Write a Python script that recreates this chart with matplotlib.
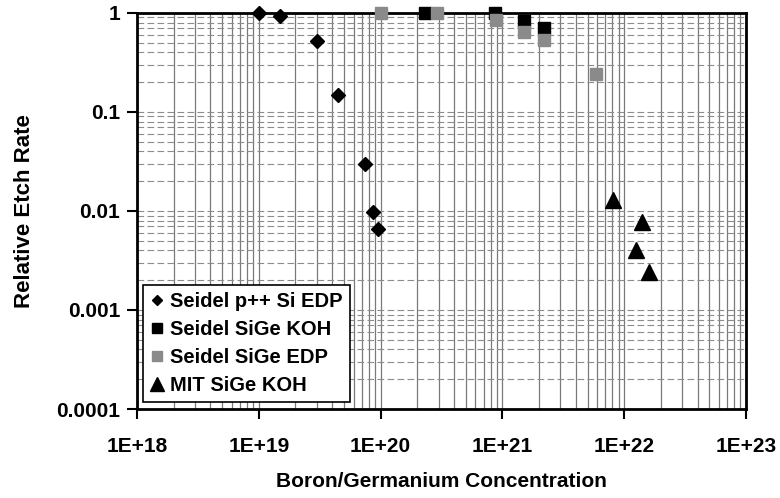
import matplotlib.pyplot as plt
import matplotlib.ticker as mticker
import numpy as np

plt.rcParams['font.family'] = ['Liberation Sans', 'DejaVu Sans']
plt.rcParams['font.weight'] = 'bold'

# Seidel p++ Si EDP
edp_si_x = [1.0e19, 1.5e19, 3.0e19, 4.5e19, 7.4e19, 8.6e19, 9.6e19]
edp_si_y = [1.0, 0.93, 0.52, 0.15, 0.030, 0.0097, 0.0066]

# Seidel SiGe KOH
koh_sige_x = [2.3e20, 8.7e20, 1.5e21, 2.2e21]
koh_sige_y = [1.0, 1.0, 0.83, 0.70]

# Seidel SiGe EDP
edp_sige_x = [1.0e20, 2.9e20, 8.8e20, 1.5e21, 2.2e21, 5.9e21]
edp_sige_y = [1.0, 1.0, 0.85, 0.64, 0.53, 0.24]

# MIT SiGe KOH
mit_x = [8.1e21, 1.4e22, 1.26e22, 1.6e22]
mit_y = [0.013, 0.0077, 0.0040, 0.0024]

fig = plt.figure(figsize=(7.8, 4.98), dpi=100)
ax = fig.add_axes([0.1756, 0.1787, 0.7808, 0.7953])
ax.set_xscale('log')
ax.set_yscale('log')
ax.set_xlim(1e18, 1e23)
ax.set_ylim(1e-4, 1)

# grid: vertical solid, horizontal dashed
ax.xaxis.set_minor_locator(mticker.LogLocator(base=10, subs=np.arange(2, 10)))
ax.yaxis.set_minor_locator(mticker.LogLocator(base=10, subs=np.arange(2, 10)))
ax.grid(True, axis='x', which='both', color='#7a7a7a', lw=0.9, ls='-')
ax.grid(True, axis='y', which='both', color='#8c8c8c', lw=0.8, ls=(0, (6, 3)))
ax.set_axisbelow(True)

ax.plot(edp_si_x, edp_si_y, 'D', color='black', ms=7, ls='none',
        clip_on=False, label='Seidel p++ Si EDP', zorder=3)
ax.plot(koh_sige_x, koh_sige_y, 's', color='black', ms=8.5, ls='none',
        clip_on=False, label='Seidel SiGe KOH', zorder=3)
ax.plot(edp_sige_x, edp_sige_y, 's', color='#8a8a8a', ms=8.5, ls='none',
        clip_on=False, label='Seidel SiGe EDP', zorder=4)
ax.plot(mit_x, mit_y, '^', color='black', ms=12, ls='none',
        clip_on=False, label='MIT SiGe KOH', zorder=3)

ax.xaxis.set_major_formatter(mticker.FuncFormatter(lambda v, p: '1E+%d' % round(np.log10(v))))
ax.yaxis.set_major_formatter(mticker.FuncFormatter(lambda v, p: ('%g' % v) if v >= 1e-3 else '0.0001'))
ax.tick_params(which='major', direction='out', length=7, width=1.5, labelsize=15, pad=5)
ax.tick_params(axis='x', which='major', pad=13)
ax.tick_params(which='minor', length=0)
for lab in ax.get_xticklabels() + ax.get_yticklabels():
    lab.set_fontweight('bold')
for s in ax.spines.values():
    s.set_linewidth(2)
    s.set_color('black')

ax.set_xlabel('Boron/Germanium Concentration', fontsize=15, fontweight='bold', labelpad=12)
ax.set_ylabel('Relative Etch Rate', fontsize=16, fontweight='bold', labelpad=15)

leg = ax.legend(loc='lower left', bbox_to_anchor=(0.003, 0.008), fontsize=14.5,
                frameon=True, fancybox=False, framealpha=1, edgecolor='black',
                handlelength=0.7, handletextpad=0.3, borderpad=0.35,
                labelspacing=0.45, borderaxespad=0.2, markerscale=0.8)
leg.get_frame().set_linewidth(1.2)
for t in leg.get_texts():
    t.set_fontweight('bold')

fig.savefig('out.png', dpi=100)
